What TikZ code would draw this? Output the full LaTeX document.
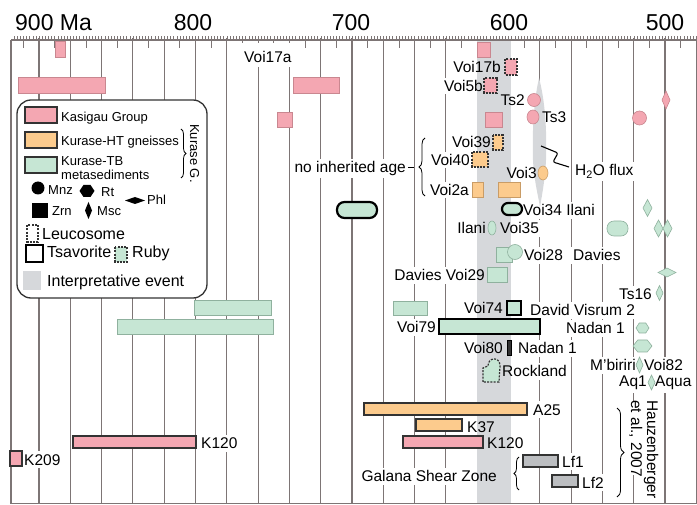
\documentclass[tikz,border=0pt]{standalone}
\usepackage{fontspec}
\setmainfont{Liberation Sans}
\usetikzlibrary{decorations.pathreplacing}
\pgfdeclarelayer{gridl}
\pgfdeclarelayer{maskl}
\pgfdeclarelayer{bandl}
\pgfsetlayers{gridl,maskl,bandl,main}
\definecolor{pk}{HTML}{F4A7B2}
\definecolor{pkb}{HTML}{C98790}
\definecolor{og}{HTML}{FCCB8D}
\definecolor{ogb}{HTML}{C99C66}
\definecolor{gn}{HTML}{C6E6D4}
\definecolor{gnb}{HTML}{8FB19E}
\definecolor{bandc}{HTML}{D6D8DB}
\definecolor{lfc}{HTML}{BCBEC1}
\definecolor{gridc}{HTML}{7D7575}
\definecolor{dk}{HTML}{333333}
\begin{document}
\begin{tikzpicture}[x=1pt,y=-1pt,
  lab/.style={font=\fontsize{15.5}{18}\selectfont, inner sep=0pt},
  leg/.style={font=\fontsize{13}{15}\selectfont, inner sep=0pt},
  legb/.style={font=\fontsize{16}{18}\selectfont, inner sep=0pt},
  axl/.style={font=\fontsize{23}{26}\selectfont, inner sep=0pt},
  pkl/.style={fill=pk, draw=pkb, line width=0.6pt},
  pkd/.style={fill=pk, draw=dk, line width=1.2pt},
  ogl/.style={fill=og, draw=ogb, line width=0.6pt},
  ogd/.style={fill=og, draw=dk, line width=1.2pt},
  gnl/.style={fill=gn, draw=gnb, line width=0.6pt},
  gnd/.style={fill=gn, draw=dk, line width=1.2pt},
  tsav/.style={draw=black, line width=2.2pt},
  leuco/.style={draw=dk, line width=1.2pt, dash pattern=on 2pt off 1.3pt},
  brc/.style={decorate, decoration={brace, amplitude=6pt}, line width=0.8pt},
  gridline/.style={draw=gridc, line width=1.1pt}]
\useasboundingbox (0,0) rectangle (697,505);

% ---------- grid ----------
\begin{pgfonlayer}{gridl}
\foreach \a in {900,880,...,480}
  \draw[gridline] ({39+(900-\a)*1.565},38) -- ({39+(900-\a)*1.565},503);
\foreach \a in {910,890,...,490}
  \draw[gridc, line width=0.9pt] ({39+(900-\a)*1.565},40) -- ({39+(900-\a)*1.565},48);
\foreach \a in {478,480,...,916}
  \draw[gridc, line width=0.4pt] ({39+(900-\a)*1.565},36.5) -- ({39+(900-\a)*1.565},40);
\draw[gridc, line width=1.2pt] (11,40) -- (697,40);
\draw[gridc, line width=1.2pt] (11,40) -- (11,503.5) -- (697,503.5);
\end{pgfonlayer}

% ---------- interpretative event band ----------
\begin{pgfonlayer}{bandl}
\fill[bandc] (477,41) rectangle (511,503);
\fill[bandc] (539,78) .. controls (545,100) and (547,130) .. (546,160)
  .. controls (545,180) and (542,195) .. (540,207)
  .. controls (538,195) and (534,180) .. (533,160)
  .. controls (532,130) and (534,100) .. (539,78);
\end{pgfonlayer}

% ---------- axis labels ----------
\node[axl, anchor=base west] (a9) at (15,31) {900 Ma};
\node[axl, anchor=base] (a8) at (193,31) {800};
\node[axl, anchor=base] (a7) at (351,31) {700};
\node[axl, anchor=base] (a6) at (509,31) {600};
\node[axl, anchor=base] (a5) at (665,31) {500};

% ---------- legend ----------
\draw[draw=dk, line width=1.3pt, fill=white, rounded corners=14pt] (17,100) rectangle (207,298);
\draw[pkd] (25,107) rectangle (57,123);
\draw[ogd] (25,132) rectangle (57,148);
\draw[gnd] (25,157) rectangle (57,173);
\node[leg, anchor=base west] (lg1) at (61,122) {Kasigau Group};
\node[leg, anchor=base west] (lg2) at (61,146) {Kurase-HT gneisses};
\node[leg, anchor=base west] (lg3) at (61,165.5) {Kurase-TB};
\node[leg, anchor=base west] (lg4) at (61,180) {metasediments};
\draw[brc, decoration={amplitude=5pt}] (181,129) -- (181,178);
\node[leg, anchor=base west, rotate=-90] (lg5) at (190,124) {Kurase G.};
\fill[black] (38,188) circle (6.5);
\node[leg, anchor=base west] (lg6) at (48,195) {Mnz};
\fill[black] (79.5,191) -- (83.5,185) -- (90.5,185) -- (94.5,191) -- (90.5,197) -- (83.5,197) -- cycle;
\node[leg, anchor=base west] (lg7) at (101,197) {Rt};
\fill[black] (125,200.5) -- (135,197) -- (145,200.5) -- (135,204) -- cycle;
\node[leg, anchor=base west] (lg8) at (147,205) {Phl};
\fill[black] (32,203) rectangle (48,218);
\node[leg, anchor=base west] (lg9) at (52,216) {Zrn};
\fill[black] (88.5,202) -- (92,210.5) -- (88.5,219) -- (85,210.5) -- cycle;
\node[leg, anchor=base west] (lg10) at (97,216) {Msc};
\draw[leuco] (27,225) rectangle (38,242);
\node[legb, anchor=base west] (lg11) at (42,240) {Leucosome};
\draw[tsav] (26,245) rectangle (43,262);
\node[legb, anchor=base west] (lg12) at (47,258) {Tsavorite};
\draw[gnl, leuco] (115,247) rectangle (127,262);
\node[legb, anchor=base west] (lg13) at (132,258) {Ruby};
\fill[bandc] (23,271) rectangle (41,290);
\node[legb, anchor=base west] (lg14) at (47,287) {Interpretative event};

% ---------- Kasigau (pink) ----------
\draw[pkl] (55,41) rectangle (65,57);
\draw[pkl] (477,42) rectangle (490,57);
\draw[pkl] (18,77) rectangle (105,93);
\draw[pkl] (293,77) rectangle (339,93);
\draw[pkl] (277,112) rectangle (292,127);
\draw[pkl, leuco] (505,59) rectangle (517,75);
\draw[pkl, leuco] (484,78) rectangle (497,93);
\draw[pkl] (534,100) circle (6.5);
\draw[pkl] (533,117) ellipse (6 and 7);
\draw[pkl] (485,112) rectangle (502,127);
\draw[pkl] (639.5,118) circle (7);
\draw[pkl] (666,91) -- (670,100) -- (666,109) -- (662,100) -- cycle;
\draw[pkd] (73,436) rectangle (196,448);
\draw[pkd] (10,451) rectangle (22,466);
\draw[pkd] (403,436) rectangle (483,448);

% ---------- Kurase-HT (orange) ----------
\draw[ogl, leuco] (493,135) rectangle (503,150);
\draw[ogl, leuco] (472,152) rectangle (488,167);
\draw[ogl] (472,182) rectangle (483,197);
\draw[ogl] (498,182) rectangle (520,197);
\draw[ogl] (543,173) ellipse (5 and 7);
\draw[ogd] (364,403) rectangle (527,415);
\draw[ogd] (416,419) rectangle (462,431);

% ---------- Kurase-TB (green) ----------
\draw[gnl, tsav, rounded corners=7.5pt] (337,202) rectangle (377,218);
\draw[gnl, tsav, rounded corners=6pt] (502,203) rectangle (522,215);
\draw[gnl] (492,228) ellipse (4 and 7);
\draw[gnl, rounded corners=7pt] (607,221) rectangle (628,236);
\draw[gnl] (647.5,199.5) -- (652,208) -- (647.5,216.5) -- (643,208) -- cycle;
\draw[gnl] (658.5,220) -- (663,228.5) -- (658.5,237) -- (654,228.5) -- cycle;
\draw[gnl] (667.5,220) -- (672,228.5) -- (667.5,237) -- (663,228.5) -- cycle;
\draw[gnl] (658,272.5) -- (667,268) -- (676,272.5) -- (667,277) -- cycle;
\draw[gnl] (659.5,285.5) -- (663,293) -- (659.5,300.5) -- (656,293) -- cycle;
\draw[gnl] (636,328) -- (639.25,323) -- (645.75,323) -- (649,328) -- (645.75,333) -- (639.25,333) -- cycle;
\draw[gnl] (633,346) -- (637.75,340) -- (647.25,340) -- (652,346) -- (647.25,352) -- (637.75,352) -- cycle;
\draw[gnl] (639.5,357) -- (643,365) -- (639.5,373) -- (636,365) -- cycle;
\draw[gnl] (651.5,375) -- (655,382.5) -- (651.5,390) -- (648,382.5) -- cycle;
\draw[gnl] (496,247) rectangle (512,262);
\draw[gnl] (515,252) circle (7.5);
\draw[gnl] (487,267) rectangle (507,282);
\draw[gnl] (393,301) rectangle (427,315);
\draw[gnl] (194,300) rectangle (271,315);
\draw[gnl] (117,319) rectangle (273,334);
\draw[gnl, tsav, line width=2pt] (507,301) rectangle (521,315);
\draw[gnl, tsav, line width=2pt] (439,319) rectangle (540,334);
\draw[fill=dk, draw=black, line width=0.8pt] (507,340) rectangle (511,355);
\draw[gnl, leuco] (483,382) -- (483,368) -- (488,366) .. controls (488,357) and (500,356) .. (500,366) -- (499,382) -- cycle;

% ---------- Galana (gray) ----------
\draw[fill=lfc, draw=dk, line width=1.2pt] (523,455) rectangle (558,467);
\draw[fill=lfc, draw=dk, line width=1.2pt] (552,475) rectangle (578,487);

% ---------- braces and flux ----------
\draw[line width=0.9pt] (408,167.5) -- (414,167.5);
\draw[brc] (425,196) -- (425,138);
\draw[brc, decoration={amplitude=5pt}] (519,490) -- (519,457);
\draw[brc, decoration={amplitude=7pt}] (617,408) -- (617,497);
\draw[line width=1.1pt, rounded corners=2pt] (541,146) -- (558,153) -- (553,162) -- (569,167);

% ---------- labels ----------
\node[lab, anchor=base west] (t1) at (244,63) {Voi17a};
\node[lab, anchor=base east] (t2) at (501,72.5) {Voi17b};
\node[lab, anchor=base east] (t3) at (483,91.5) {Voi5b};
\node[lab, anchor=base east] (t4) at (525,105.5) {Ts2};
\node[lab, anchor=base west] (t5) at (542,122.5) {Ts3};
\node[lab, anchor=base east] (t6) at (491,147.5) {Voi39};
\node[lab, anchor=base east] (t7) at (470,165.5) {Voi40};
\node[lab, anchor=base east] (t8) at (469,195.5) {Voi2a};
\node[lab, anchor=base east] (t9) at (537,178.5) {Voi3};
\node[lab, anchor=base west] (t10) at (575,175.5) {H\textsubscript{2}O flux};
\node[lab, anchor=base east] (t11) at (406,172.5) {no inherited age};
\node[lab, anchor=base west] (t12) at (523,216) {Voi34 Ilani};
\node[lab, anchor=base east] (t13) at (486,234) {Ilani};
\node[lab, anchor=base west] (t14) at (500,234) {Voi35};
\node[lab, anchor=base west] (t15) at (524,261) {Voi28};
\node[lab, anchor=base west] (t16) at (573,261) {Davies};
\node[lab, anchor=base east] (t17) at (485,281) {Davies Voi29};
\node[lab, anchor=base east] (t18) at (652,300) {Ts16};
\node[lab, anchor=base east] (t19) at (503,314) {Voi74};
\node[lab, anchor=base west] (t20) at (530,316) {David Visrum 2};
\node[lab, anchor=base east] (t21) at (436,333) {Voi79};
\node[lab, anchor=base west] (t22) at (566,334) {Nadan 1};
\node[lab, anchor=base east] (t23) at (503,354) {Voi80};
\node[lab, anchor=base west] (t24) at (518,354) {Nadan 1};
\node[lab, anchor=base west] (t25) at (502,377) {Rockland};
\node[lab, anchor=base east] (t26) at (636,371) {M’biriri};
\node[lab, anchor=base west] (t27) at (644,371) {Voi82};
\node[lab, anchor=base east] (t28) at (647,387) {Aq1};
\node[lab, anchor=base west] (t29) at (655,387) {Aqua};
\node[lab, anchor=base west] (t30) at (533,415) {A25};
\node[lab, anchor=base west] (t31) at (467,432) {K37};
\node[lab, anchor=base west] (t32) at (487,449) {K120};
\node[lab, anchor=base west] (t33) at (562,467) {Lf1};
\node[lab, anchor=base west] (t34) at (582,488) {Lf2};
\node[lab, anchor=base east] (t35) at (497,482) {Galana Shear Zone};
\node[lab, anchor=base west] (t36) at (201,449) {K120};
\node[lab, anchor=base west] (t37) at (24,465) {K209};
\node[lab, anchor=base west, rotate=-90] (t38) at (647,400) {Hauzenberger};
\node[lab, anchor=base west, rotate=-90] (t39) at (631,400) {et al., 2007};

% ---------- white gaps in the grid behind labels ----------
\begin{pgfonlayer}{maskl}
\foreach \i in {1,...,39}
  \fill[white] ([shift={(-2pt,-2.5pt)}]t\i.south west) rectangle ([shift={(2pt,2.5pt)}]t\i.north east);
\fill[white] (240,43) rectangle (294,67);
\end{pgfonlayer}
\end{tikzpicture}
\end{document}
